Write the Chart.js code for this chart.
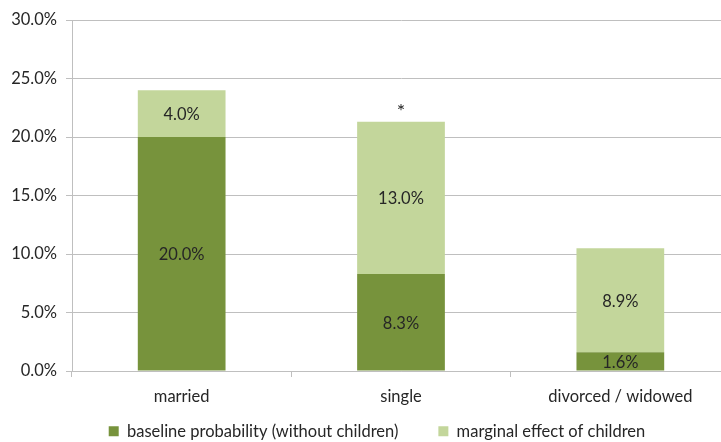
<!DOCTYPE html>
<html>
<head>
<meta charset="utf-8">
<script src="https://cdn.jsdelivr.net/npm/chart.js@4/dist/chart.umd.min.js"></script>
<style>
  html, body { margin: 0; padding: 0; background: #fff; overflow: hidden; }
  #wrap { width: 730px; height: 442px; }
</style>
</head>
<body>
<div id="wrap"><canvas id="canvas"></canvas></div>
<script>
// donnees
const categories = ['married', 'single', 'divorced / widowed'];
const baseline = [20.0, 8.3, 1.6];
const marginal = [4.0, 13.0, 8.9];
const seriesNames = ['baseline probability (without children)', 'marginal effect of children'];
const stars = ['', '*', ''];

const darkGreen = '#77933C';
const lightGreen = '#C3D69B';
const fontFamily = 'Lato, "Open Sans", sans-serif';
const fontSize = 16.5;

// etiquettes de valeur au centre de chaque segment + asterisque
const barLabels = {
  id: 'barLabels',
  afterDatasetsDraw(chart) {
    const ctx = chart.ctx;
    ctx.save();
    ctx.font = fontSize + 'px ' + fontFamily;
    ctx.fillStyle = '#262626';
    ctx.textAlign = 'center';
    ctx.textBaseline = 'middle';
    chart.data.datasets.forEach((ds, i) => {
      chart.getDatasetMeta(i).data.forEach((bar, j) => {
        const mid = (bar.y + bar.base) / 2;
        ctx.fillText(ds.data[j].toFixed(1) + '%', bar.x, mid + 1);
      });
    });
    const top = chart.getDatasetMeta(1).data;
    ctx.font = '20px ' + fontFamily;
    ctx.textBaseline = 'alphabetic';
    stars.forEach((s, j) => {
      if (s) ctx.fillText(s, top[j].x, top[j].y - 4);
    });
    ctx.restore();
  }
};

// legende : hauteur reduite et decalage pour la placer comme dans l'original
const legendFix = {
  id: 'legendFix',
  beforeLayout(chart) {
    const lg = chart.legend;
    if (lg && !lg._patched) {
      const fit = lg.fit;
      lg.fit = function () { fit.call(this); this.height = 20; };
      lg._patched = true;
    }
  },
  afterLayout(chart) {
    const lg = chart.legend;
    lg.left += 12;
    lg.right += 12;
    lg.top = 432 - 40 - 9;
  }
};

new Chart(document.getElementById('canvas'), {
  type: 'bar',
  data: {
    labels: categories,
    datasets: [
      { label: seriesNames[0], data: baseline, backgroundColor: darkGreen },
      { label: seriesNames[1], data: marginal, backgroundColor: lightGreen }
    ]
  },
  options: {
    responsive: true,
    maintainAspectRatio: false,
    animation: false,
    layout: { padding: { top: 20, left: 0, right: 0, bottom: 0 } },
    datasets: { bar: { barPercentage: 0.4, categoryPercentage: 1.0 } },
    plugins: {
      tooltip: { enabled: false },
      legend: {
        position: 'bottom',
        labels: {
          boxWidth: 10,
          boxHeight: 10,
          padding: 40,
          color: '#262626',
          font: { family: fontFamily, size: fontSize }
        }
      }
    },
    scales: {
      x: {
        stacked: true,
        grid: { drawOnChartArea: false, drawTicks: true, tickLength: 6, color: '#BFBFBF', offset: true },
        border: { color: '#BFBFBF' },
        ticks: { color: '#262626', padding: 10, font: { family: fontFamily, size: fontSize } },
        afterFit(scale) { scale.height = 51; }
      },
      y: {
        stacked: true,
        min: 0,
        max: 30,
        grid: { color: '#BFBFBF', tickLength: 6 },
        border: { color: '#BFBFBF' },
        ticks: {
          stepSize: 5,
          padding: 9,
          color: '#262626',
          font: { family: fontFamily, size: fontSize },
          callback: v => v.toFixed(1) + '%'
        },
        afterFit(scale) { scale.width = 72; }
      }
    }
  },
  plugins: [barLabels, legendFix]
});
</script>
</body>
</html>
